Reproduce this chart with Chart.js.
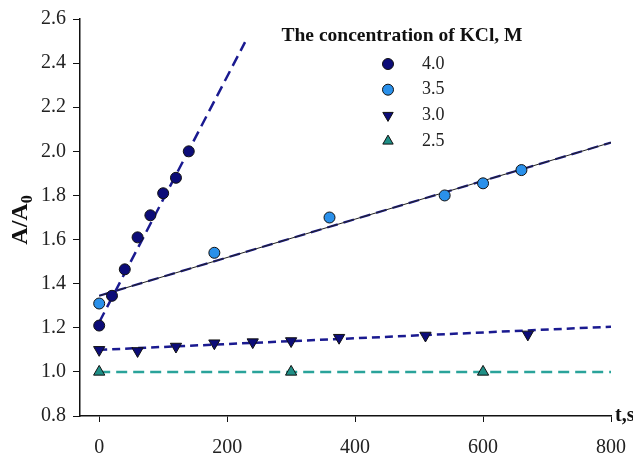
<!DOCTYPE html>
<html>
<head>
<meta charset="utf-8">
<script src="https://cdn.jsdelivr.net/npm/chart.js"></script>
<style>
  body { margin: 0; background: #fff; }
  #kclChart { display: block; }
</style>
</head>
<body>
<canvas id="kclChart" width="633" height="454"></canvas>
<script>
// measured points, t in s, A/A0
const time40 = [0, 20, 40, 60, 80, 100, 120, 140];
const ratio40 = [1.21, 1.345, 1.465, 1.61, 1.71, 1.81, 1.88, 2.0];
const time35 = [0, 180, 360, 540, 600, 660];
const ratio35 = [1.31, 1.54, 1.70, 1.80, 1.855, 1.915];
const time30 = [0, 60, 120, 180, 240, 300, 375, 510, 670];
const ratio30 = [1.10, 1.095, 1.115, 1.13, 1.135, 1.14, 1.155, 1.165, 1.17];
const time25 = [0, 300, 600];
const ratio25 = [1.0, 1.0, 1.0];

// fitted lines (end points)
const fitTime40 = [0, 228];
const fitRatio40 = [1.225, 2.495];
const fitTime35 = [0, 800];
const fitRatio35 = [1.345, 2.04];
const fitTime30 = [0, 800];
const fitRatio30 = [1.10, 1.205];
const fitTime25 = [0, 800];
const fitRatio25 = [1.0, 1.0];

const legendLabels = ['4.0', '3.5', '3.0', '2.5'];
const legendTitle = 'The concentration of KCl, M';
const xTicks = [0, 200, 400, 600, 800];
const yTicks = [0.8, 1.0, 1.2, 1.4, 1.6, 1.8, 2.0, 2.2, 2.4, 2.6];

function pts(xs, ys) {
  return xs.map((x, i) => ({ x: x, y: ys[i] }));
}

const navy = '#0c0c78';
const lightBlue = '#2a90ea';
const teal = '#1f8f86';
const lineNavy = '#1a1a90';
const lineTeal = '#2aa39a';

function markerSet(label, data, color, style, rot) {
  return {
    type: 'scatter',
    label: label,
    data: data,
    backgroundColor: color,
    borderColor: '#111',
    borderWidth: 1,
    pointStyle: style,
    pointRadius: style === 'circle' ? 5.5 : 6.5,
    rotation: rot,
    order: 0
  };
}

function fitSet(data, color, dash, width) {
  return {
    type: 'line',
    data: data,
    borderColor: color,
    borderWidth: width,
    borderDash: dash,
    pointRadius: 0,
    fill: false,
    order: 1
  };
}

const serif = '"Liberation Serif", "Times New Roman", serif';

const overlayPlugin = {
  id: 'overlay',
  afterDraw(chart) {
    const ctx = chart.ctx;
    const area = chart.chartArea;
    ctx.save();
    ctx.fillStyle = '#111';

    // y title with subscript
    ctx.save();
    ctx.translate(27, 220);
    ctx.rotate(-Math.PI / 2);
    ctx.font = 'bold 24px ' + serif;
    ctx.textBaseline = 'alphabetic';
    const main = 'A/A';
    const w = ctx.measureText(main).width;
    ctx.font = 'bold 16px ' + serif;
    const ws = ctx.measureText('0').width;
    const start = -(w + ws) / 2;
    ctx.font = 'bold 24px ' + serif;
    ctx.textAlign = 'left';
    ctx.fillText(main, start, 0);
    ctx.font = 'bold 16px ' + serif;
    ctx.fillText('0', start + w, 5);
    ctx.restore();

    // x title right of axis end
    ctx.font = 'bold 20px ' + serif;
    ctx.textAlign = 'left';
    ctx.textBaseline = 'middle';
    ctx.fillText('t,s', area.right + 4, area.bottom);

    // legend
    ctx.font = 'bold 19.5px ' + serif;
    ctx.textAlign = 'center';
    ctx.fillText(legendTitle, 402, 36);
    ctx.font = '18px ' + serif;
    ctx.textAlign = 'left';
    const sets = chart.data.datasets.filter(d => d.type === 'scatter');
    sets.forEach((d, i) => {
      const y = 64 + i * 25.7;
      ctx.fillStyle = d.backgroundColor;
      ctx.strokeStyle = d.borderColor;
      ctx.lineWidth = 1;
      Chart.helpers.drawPoint(ctx, {
        pointStyle: d.pointStyle,
        radius: d.pointStyle === 'circle' ? 5.5 : 6,
        rotation: d.rotation,
        borderWidth: 1
      }, 388, y);
      ctx.fillStyle = '#222';
      ctx.fillText(legendLabels[i], 422, y);
    });
    ctx.restore();
  }
};

new Chart(document.getElementById('kclChart'), {
  data: {
    datasets: [
      markerSet('4.0', pts(time40, ratio40), navy, 'circle', 0),
      markerSet('3.5', pts(time35, ratio35), lightBlue, 'circle', 0),
      markerSet('3.0', pts(time30, ratio30), navy, 'triangle', 180),
      markerSet('2.5', pts(time25, ratio25), teal, 'triangle', 0),
      fitSet(pts(fitTime40, fitRatio40), lineNavy, [11, 6], 2.5),
      fitSet(pts(fitTime35, fitRatio35), '#222', [], 1),
      fitSet(pts(fitTime35, fitRatio35), lineNavy, [11, 6], 2.2),
      fitSet(pts(fitTime30, fitRatio30), lineNavy, [8, 5], 2.5),
      fitSet(pts(fitTime25, fitRatio25), lineTeal, [11, 6], 2.5)
    ]
  },
  options: {
    responsive: false,
    animation: false,
    layout: { padding: { top: 19, right: 22, left: 0, bottom: 0 } },
    plugins: { legend: { display: false }, tooltip: { enabled: false } },
    scales: {
      x: {
        type: 'linear',
        min: -30,
        max: 800,
        afterBuildTicks: s => { s.ticks = xTicks.map(v => ({ value: v })); },
        afterFit: s => { s.height = 38; s.paddingLeft = 0; s.paddingRight = 0; },
        border: { color: '#111', width: 1.5 },
        grid: { drawOnChartArea: false, tickLength: 6, color: '#111' },
        ticks: { color: '#222', padding: 14, font: { family: serif, size: 20 } }
      },
      y: {
        type: 'linear',
        min: 0.8,
        max: 2.6,
        afterBuildTicks: s => { s.ticks = yTicks.map(v => ({ value: v })); },
        afterFit: s => { s.width = 80; s.paddingTop = 0; s.paddingBottom = 0; },
        border: { color: '#111', width: 1.5 },
        grid: { drawOnChartArea: false, tickLength: 7, color: '#111' },
        ticks: {
          color: '#222',
          padding: 7,
          font: { family: serif, size: 20 },
          callback: v => v.toFixed(1)
        }
      }
    }
  },
  plugins: [overlayPlugin]
});
</script>
</body>
</html>
